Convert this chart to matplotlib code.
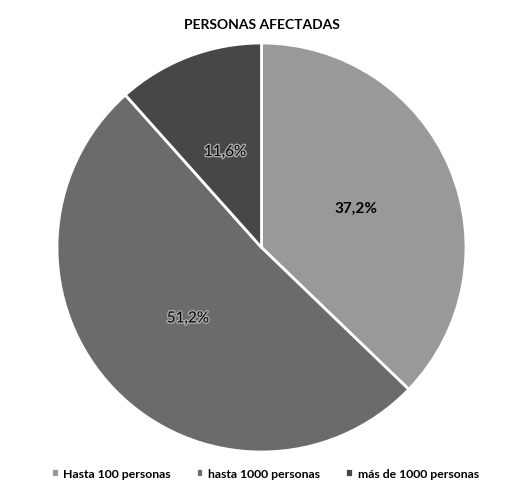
import matplotlib.pyplot as plt
import matplotlib.patheffects as pe

categorias = ["Hasta 100 personas", "hasta 1000 personas", "más de 1000 personas"]
porcentajes = [37.2, 51.2, 11.6]
colores = ["#999999", "#6b6b6b", "#474747"]

plt.rcParams['font.family'] = ['Lato', 'DejaVu Sans']

fig = plt.figure(figsize=(5.09, 4.89), dpi=100)
ax = fig.add_axes([57 / 509, 36 / 489, 409 / 509, 409 / 489])

wedges, textos, autotextos = ax.pie(
    porcentajes, colors=colores, startangle=90, counterclock=False,
    autopct=lambda p: f"{p:.1f}".replace('.', ',') + '%', pctdistance=0.5,
    wedgeprops=dict(edgecolor='white', linewidth=2), radius=1)
ax.set_xlim(-1, 1)
ax.set_ylim(-1, 1)
ax.set_aspect('equal')

for i, t in enumerate(autotextos):
    t.set_fontsize(11)
    t.set_color('black')
    if i == 0:
        t.set_fontweight('bold')
    else:
        t.set_path_effects([pe.withStroke(linewidth=2, foreground='#a8a8a8')])

fig.text(0.515, 0.948, "PERSONAS AFECTADAS", ha='center', va='center',
         fontsize=10, fontweight='bold')

fig.legend(wedges, categorias, loc='center', bbox_to_anchor=(0.52, 0.03),
           ncol=3, frameon=False, prop=dict(size=8.8, weight='bold'),
           handlelength=0.65, handleheight=0.65, handletextpad=0.4,
           columnspacing=2.0)

fig.savefig('out.png', dpi=100)
